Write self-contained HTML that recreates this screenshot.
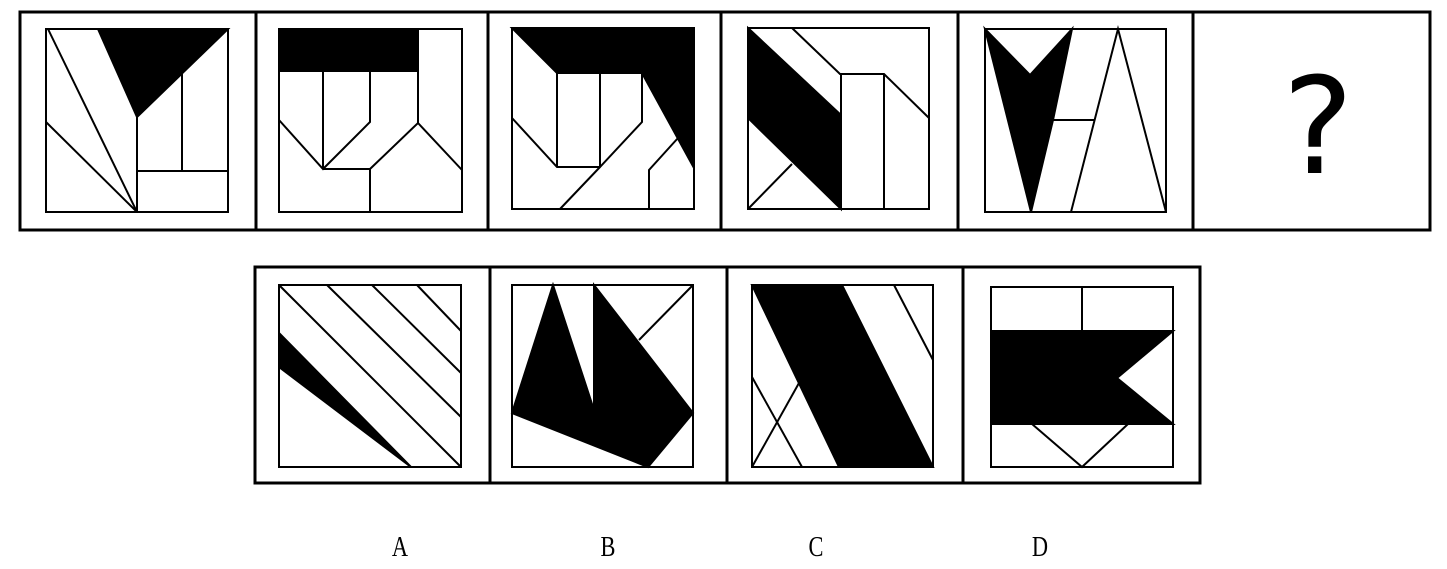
<!DOCTYPE html>
<html><head><meta charset="utf-8"><style>html,body{margin:0;padding:0;background:#fff;width:1447px;height:569px;overflow:hidden}</style></head><body>
<svg width="1447" height="569" xmlns="http://www.w3.org/2000/svg" style="display:block">
<g fill="none" stroke="#000" stroke-width="3">
<rect x="20" y="12" width="1410" height="218"/>
<line x1="256" y1="12" x2="256" y2="230"/><line x1="488" y1="12" x2="488" y2="230"/>
<line x1="721" y1="12" x2="721" y2="230"/><line x1="958" y1="12" x2="958" y2="230"/>
<line x1="1193" y1="12" x2="1193" y2="230"/>
<rect x="255" y="267" width="945" height="216"/>
<line x1="490" y1="267" x2="490" y2="483"/><line x1="727" y1="267" x2="727" y2="483"/><line x1="963" y1="267" x2="963" y2="483"/>
</g>
<g stroke="#000" stroke-width="2" fill="none">
<!-- P1 -->
<polygon points="98,29 228,29 137,117 133,108" fill="#000"/>
<rect x="46" y="29" width="182" height="183"/>
<line x1="48" y1="29" x2="137" y2="212"/><line x1="46" y1="122" x2="137" y2="212"/>
<line x1="137" y1="117" x2="137" y2="212"/><line x1="137" y1="171" x2="228" y2="171"/>
<line x1="182" y1="73" x2="182" y2="171"/>
<!-- P2 -->
<rect x="279" y="29" width="139" height="42" fill="#000"/>
<rect x="279" y="29" width="183" height="183"/>
<line x1="418" y1="29" x2="418" y2="123"/>
<polyline points="279,120 323,169 370,122 370,71"/>
<line x1="323" y1="71" x2="323" y2="169"/>
<polyline points="323,169 370,169 370,212"/>
<polyline points="370,169 418,123 462,170"/>
<!-- P3 -->
<polygon points="512,28 694,28 694,168 642,73 557,73" fill="#000"/>
<rect x="512" y="28" width="182" height="181"/>
<polyline points="512,118 557,167 600,167 642,122 642,73"/>
<line x1="557" y1="73" x2="557" y2="167"/><line x1="600" y1="73" x2="600" y2="167"/>
<line x1="600" y1="167" x2="560" y2="209"/>
<polyline points="678,138 649,170 649,209"/>
<!-- P4 -->
<polygon points="748,28 841,115 841,209 748,118" fill="#000"/>
<rect x="748" y="28" width="181" height="181"/>
<polyline points="792,28 840,74 884,74 929,118"/>
<line x1="841" y1="74" x2="841" y2="209"/><line x1="884" y1="74" x2="884" y2="209"/>
<line x1="748" y1="209" x2="792" y2="164"/>
<!-- P5 -->
<polygon points="985,29 1030,75 1072,29 1053,120 1031,212" fill="#000"/>
<rect x="985" y="29" width="181" height="183"/>
<line x1="1053" y1="120" x2="1094" y2="120"/>
<polyline points="1071,212 1118,29 1166,212"/>
<!-- A -->
<polygon points="279,333 279,367 411,467" fill="#000"/>
<rect x="279" y="285" width="182" height="182"/>
<line x1="279" y1="285" x2="461" y2="467"/><line x1="327" y1="285" x2="461" y2="417"/>
<line x1="372" y1="285" x2="461" y2="373"/><line x1="417" y1="285" x2="461" y2="331"/>
<!-- B -->
<polygon points="553,285 594,410 594,285 693,413 648,467 512,413" fill="#000"/>
<rect x="512" y="285" width="181" height="182"/>
<line x1="639" y1="340" x2="693" y2="285"/>
<!-- C -->
<polygon points="752,285 842,285 933,467 839,467" fill="#000"/>
<rect x="752" y="285" width="181" height="182"/>
<line x1="894" y1="285" x2="933" y2="360"/>
<line x1="752" y1="377" x2="802" y2="467"/><line x1="752" y1="467" x2="799" y2="383"/>
<!-- D -->
<polygon points="991,331 1173,331 1117,378 1173,424 991,424" fill="#000"/>
<rect x="991" y="287" width="182" height="180"/>
<line x1="1082" y1="287" x2="1082" y2="331"/>
<polyline points="1032,424 1082,467 1128,424"/>
</g>
<text x="1318" y="173" font-family="DejaVu Sans, sans-serif" font-size="134" text-anchor="middle">?</text>
<g font-family="Liberation Serif, serif" font-size="28" text-anchor="middle">
<text x="400" y="556" transform="translate(400 0) scale(0.8 1) translate(-400 0)">A</text>
<text x="608" y="556" transform="translate(608 0) scale(0.8 1) translate(-608 0)">B</text>
<text x="816" y="556" transform="translate(816 0) scale(0.8 1) translate(-816 0)">C</text>
<text x="1040" y="556" transform="translate(1040 0) scale(0.8 1) translate(-1040 0)">D</text>
</g>
</svg>
</body></html>
